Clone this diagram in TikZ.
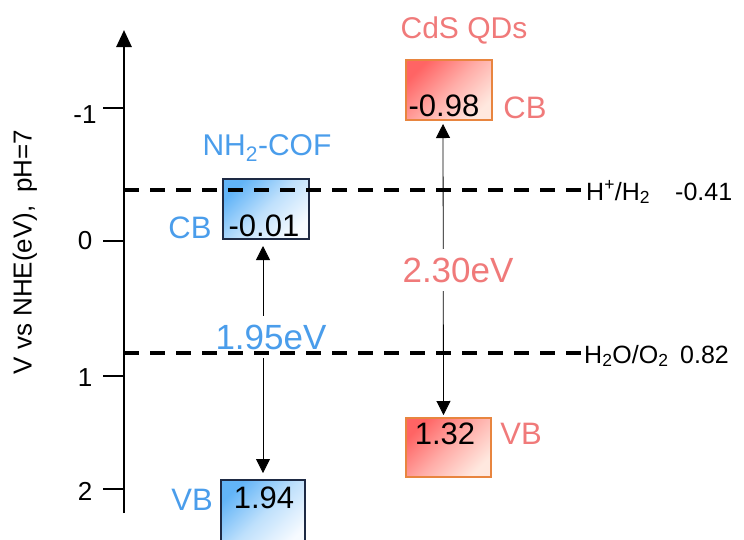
\documentclass[tikz,border=0pt]{standalone}
\usepackage{fontspec}
\setmainfont{Liberation Sans}
\usetikzlibrary{arrows.meta,positioning,calc}
\definecolor{COFBlue}{HTML}{4A9DEB}
\definecolor{COFTop}{HTML}{62B4F7}
\definecolor{COFBottom}{HTML}{F7FBFF}
\definecolor{COFBorder}{HTML}{1E2A44}
\definecolor{CdSRed}{HTML}{F07A7A}
\definecolor{CdSTop}{HTML}{FF6464}
\definecolor{CdSBottom}{HTML}{FFE8DF}
\definecolor{CdSBorder}{HTML}{E8853F}
\tikzset{
    % Band edge box
    bandbox/.style={
        draw,
        line width=2pt,
        minimum width=86pt,
        minimum height=60pt,
        inner sep=0pt
    },
    % COF box
    cofbox/.style={
        bandbox,
        draw=COFBorder,
        top color=COFTop,
        bottom color=COFBottom,
        middle color=COFTop!38!COFBottom,
        shading angle=45
    },
    % CdS box
    cdsbox/.style={
        bandbox,
        draw=CdSBorder,
        top color=CdSTop,
        bottom color=CdSBottom,
        middle color=CdSTop!45!CdSBottom,
        shading angle=45
    },
    % Value inside a box
    valtext/.style={
        text=black,
        font=\fontsize{31}{35}\selectfont,
        inner sep=0pt
    },
    % CB / VB label
    bandlabel/.style={
        font=\fontsize{31}{35}\selectfont,
        inner sep=0pt
    },
    % Band gap label
    gaplabel/.style={
        font=\fontsize{35}{40}\selectfont,
        fill=white,
        inner xsep=2pt,
        inner ysep=9pt
    },
    % Material name
    namelabel/.style={
        font=\fontsize{30}{34}\selectfont,
        inner sep=0pt
    },
    % Potentials and ticks
    potlabel/.style={
        font=\fontsize{25}{29}\selectfont,
        inner sep=0pt
    },
    % Redox level line
    levelline/.style={
        dash pattern=on 15pt off 11pt,
        line width=3.2pt
    },
    % Band gap arrow
    gaparrow/.style={
        {Triangle[width=14pt,length=14pt]}-{Triangle[width=14pt,length=14pt]},
        line width=0.8pt
    },
    % Potential axis
    axisline/.style={
        -{Triangle[width=15pt,length=17pt]},
        line width=2.8pt
    }
}
\begin{document}
\begin{tikzpicture}[x=1pt,y=-1pt]
    \clip (0,0) rectangle (744,539);

    % axis
    \coordinate (axbot) at (124,513);
    \coordinate (axtop) at (124,30);
    \draw[axisline] (axbot) -- (axtop);
    \foreach \y/\ly/\lab [count=\i] in {108/115/-1, 241/241/0, 376/378/1, 489/491/2} {
        \draw[line width=2.8pt] (103,\y) -- (124,\y);
        \node[potlabel, font=\fontsize{26}{30}\selectfont] (tick\i) at (85,\ly) {\lab};
    }
    \node[potlabel, font=\fontsize{26}{30}\selectfont, rotate=90] (ytitle) at (25,252) {V vs NHE(eV),\enspace pH=7};

    % band boxes
    \node[cofbox] (cofcb) at (266,209) {};
    \node[cofbox, minimum width=84pt, minimum height=70pt] (cofvb) at (263,515) {};
    \node[cdsbox] (cdscb) at (449,90) {};
    \node[cdsbox, minimum width=85pt, minimum height=59pt] (cdsvb) at (448.5,447.5) {};

    % band gaps
    \draw[gaparrow, shorten <=6pt, shorten >=6pt] (cofvb.north |- cofcb.south) -- (cofvb.north);
    \draw[gaparrow, shorten <=3pt, shorten >=2pt] ([xshift=-6pt]cdscb.south) -- ([xshift=-5pt]cdsvb.north);
    \node[gaplabel, text=COFBlue] (cofgap) at (271,337) {1.95eV};
    \node[gaplabel, text=CdSRed] (cdsgap) at (458,270) {2.30eV};

    % redox levels
    \coordinate (hl) at (124,190);
    \coordinate (hr) at (583,190);
    \coordinate (ol) at (124,353);
    \coordinate (or) at (583,353);
    \draw[levelline] (hl) -- (hr);
    \draw[levelline] (ol) -- (or);
    \node[potlabel, anchor=base west] (hlab) at (586,200) {H\textsuperscript{+}/H\textsubscript{2}};
    \node[potlabel, anchor=base west] (hval) at (675,200) {-0.41};
    \node[potlabel, anchor=base west] (olab) at (584,363) {H\textsubscript{2}O/O\textsubscript{2}};
    \node[potlabel, anchor=base west] (oval) at (680,363) {0.82};

    % values and labels
    \node[valtext] (cofcbv) at (264,226) {-0.01};
    \node[valtext] (cofvbv) at (264,498) {1.94};
    \node[valtext] (cdscbv) at (444,106) {-0.98};
    \node[valtext] (cdsvbv) at (445,434) {1.32};
    \node[bandlabel, text=COFBlue] (cofcbl) at (190,228) {CB};
    \node[bandlabel, text=COFBlue] (cofvbl) at (192,500) {VB};
    \node[bandlabel, text=CdSRed] (cdscbl) at (525,108) {CB};
    \node[bandlabel, text=CdSRed] (cdsvbl) at (521,434) {VB};
    \node[namelabel, text=COFBlue, anchor=base] (cofname) at (267,155) {NH\textsubscript{2}-COF};
    \node[namelabel, text=CdSRed, anchor=base] (cdsname) at (464,38) {CdS QDs};
\end{tikzpicture}
\end{document}
